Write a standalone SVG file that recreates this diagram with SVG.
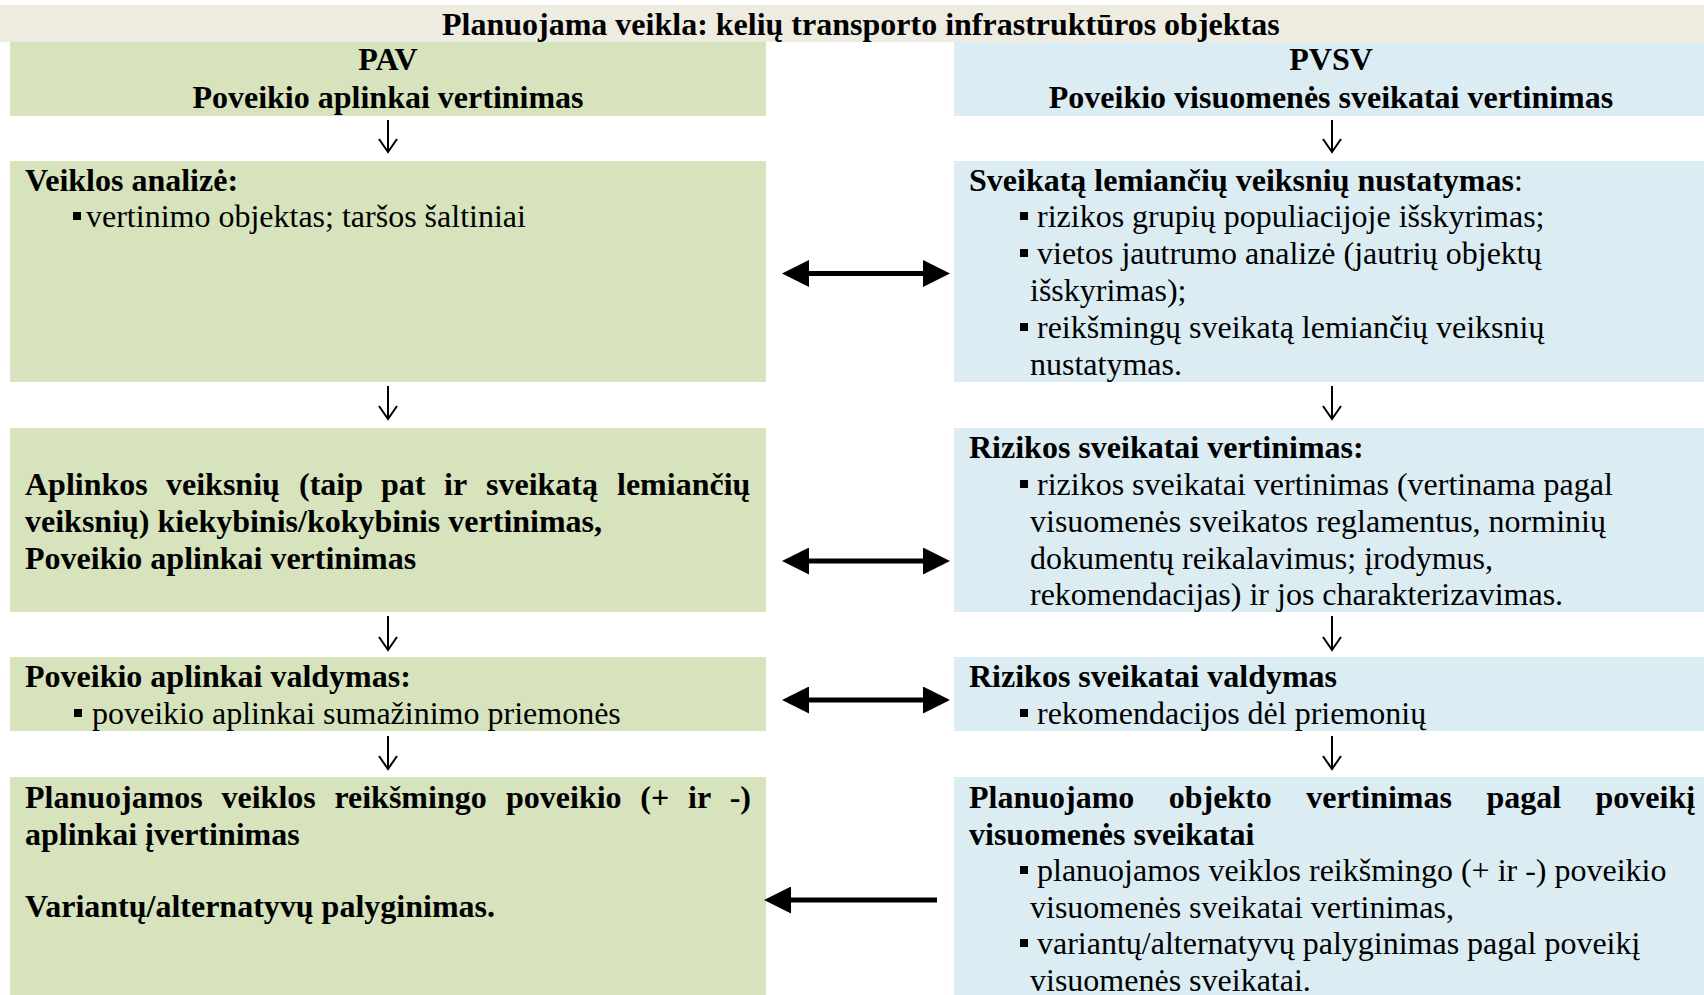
<svg xmlns="http://www.w3.org/2000/svg" width="1704" height="995" viewBox="0 0 1704 995">
<style>
.t{font-family:"Liberation Serif","Times New Roman",serif;font-size:32px;fill:#000}
.b{font-weight:bold}
.c{text-anchor:middle}
.beige{fill:#EEECE1}
.green{fill:#D7E3BD}
.blue{fill:#DBEDF3}
.bul{fill:#000}
.thin{stroke:#000;stroke-width:2;fill:none}
.thick{stroke:#000;stroke-width:5;fill:none}
</style>
<defs>
<marker id="head" markerUnits="userSpaceOnUse" markerWidth="27" markerHeight="27" refX="7" refY="13.5" orient="auto-start-reverse">
<path d="M0,0 L27,13.5 L0,27 z" fill="#000"/>
</marker>
</defs>
<rect width="1704" height="995" fill="#fff"/>

<g id="title">
<rect class="beige" x="0" y="5" width="1704" height="37"/>
<text class="t b" x="442" y="35">Planuojama veikla: kelių transporto infrastruktūros objektas</text>
</g>

<g id="pav-header">
<rect class="green" x="10" y="42" width="756" height="74"/>
<text class="t b c" x="388" y="70">PAV</text>
<text class="t b c" x="388" y="108">Poveikio aplinkai vertinimas</text>
</g>

<g id="pvsv-header">
<rect class="blue" x="954" y="42" width="750" height="74"/>
<text class="t b c" x="1331" y="70">PVSV</text>
<text class="t b c" x="1331" y="108">Poveikio visuomenės sveikatai vertinimas</text>
</g>

<g id="veiklos-analize">
<rect class="green" x="10" y="161" width="756" height="221"/>
<text class="t b" x="25" y="191">Veiklos analizė:</text>
<rect class="bul" x="73" y="212" width="8" height="8"/>
<text class="t" x="86" y="227">vertinimo objektas; taršos šaltiniai</text>
</g>

<g id="sveikata-lemianciu">
<rect class="blue" x="954" y="161" width="750" height="221"/>
<text class="t" x="969" y="191"><tspan class="b">Sveikatą lemiančių veiksnių nustatymas</tspan>:</text>
<rect class="bul" x="1020" y="212" width="8" height="8"/>
<text class="t" x="1037" y="227">rizikos grupių populiacijoje išskyrimas;</text>
<rect class="bul" x="1020" y="249" width="8" height="8"/>
<text class="t" x="1037" y="264">vietos jautrumo analizė (jautrių objektų</text>
<text class="t" x="1030" y="301">išskyrimas);</text>
<rect class="bul" x="1020" y="323" width="8" height="8"/>
<text class="t" x="1037" y="338">reikšmingų sveikatą lemiančių veiksnių</text>
<text class="t" x="1030" y="375">nustatymas.</text>
</g>

<g id="aplinkos-vertinimas">
<rect class="green" x="10" y="428" width="756" height="184"/>
<text class="t b" y="495"><tspan x="25">Aplinkos</tspan><tspan x="166">veiksnių</tspan><tspan x="299">(taip</tspan><tspan x="381">pat</tspan><tspan x="444">ir</tspan><tspan x="486">sveikatą</tspan><tspan x="617">lemiančių</tspan></text>
<text class="t b" x="25" y="532">veiksnių) kiekybinis/kokybinis vertinimas,</text>
<text class="t b" x="25" y="569">Poveikio aplinkai vertinimas</text>
</g>

<g id="rizikos-vertinimas">
<rect class="blue" x="954" y="428" width="750" height="184"/>
<text class="t b" x="969" y="458">Rizikos sveikatai vertinimas:</text>
<rect class="bul" x="1020" y="480" width="8" height="8"/>
<text class="t" x="1037" y="495">rizikos sveikatai vertinimas (vertinama pagal</text>
<text class="t" x="1030" y="532">visuomenės sveikatos reglamentus, norminių</text>
<text class="t" x="1030" y="569">dokumentų reikalavimus; įrodymus,</text>
<text class="t" x="1030" y="605">rekomendacijas) ir jos charakterizavimas.</text>
</g>

<g id="aplinkos-valdymas">
<rect class="green" x="10" y="657" width="756" height="74"/>
<text class="t b" x="25" y="687">Poveikio aplinkai valdymas:</text>
<rect class="bul" x="74" y="709" width="8" height="8"/>
<text class="t" x="92" y="724">poveikio aplinkai sumažinimo priemonės</text>
</g>

<g id="rizikos-valdymas">
<rect class="blue" x="954" y="657" width="750" height="74"/>
<text class="t b" x="969" y="687">Rizikos sveikatai valdymas</text>
<rect class="bul" x="1020" y="709" width="8" height="8"/>
<text class="t" x="1037" y="724">rekomendacijos dėl priemonių</text>
</g>

<g id="pav-ivertinimas">
<rect class="green" x="10" y="777" width="756" height="218"/>
<text class="t b" y="808"><tspan x="25">Planuojamos</tspan><tspan x="221.5">veiklos</tspan><tspan x="334.4">reikšmingo</tspan><tspan x="506">poveikio</tspan><tspan x="640.3">(+</tspan><tspan x="688">ir</tspan><tspan x="729.7">-)</tspan></text>
<text class="t b" x="25" y="845">aplinkai įvertinimas</text>
<text class="t b" x="25" y="917">Variantų/alternatyvų palyginimas.</text>
</g>

<g id="pvsv-ivertinimas">
<rect class="blue" x="954" y="777" width="750" height="218"/>
<text class="t b" y="808"><tspan x="969">Planuojamo</tspan><tspan x="1168.7">objekto</tspan><tspan x="1306.2">vertinimas</tspan><tspan x="1486.4">pagal</tspan><tspan x="1595.5">poveikį</tspan></text>
<text class="t b" x="969" y="845">visuomenės sveikatai</text>
<rect class="bul" x="1020" y="866" width="8" height="8"/>
<text class="t" x="1037" y="881">planuojamos veiklos reikšmingo (+ ir -) poveikio</text>
<text class="t" x="1030" y="918">visuomenės sveikatai vertinimas,</text>
<rect class="bul" x="1020" y="939" width="8" height="8"/>
<text class="t" x="1037" y="954">variantų/alternatyvų palyginimas pagal poveikį</text>
<text class="t" x="1030" y="991">visuomenės sveikatai.</text>
</g>

<g id="connectors">
<path class="thin" d="M388,120 V152 M379,139 L388,152 L397,139"/>
<path class="thin" d="M1332,120 V152 M1323,139 L1332,152 L1341,139"/>
<path class="thin" d="M388,386 V419 M379,406 L388,419 L397,406"/>
<path class="thin" d="M1332,386 V419 M1323,406 L1332,419 L1341,406"/>
<path class="thin" d="M388,616 V650 M379,637 L388,650 L397,637"/>
<path class="thin" d="M1332,616 V650 M1323,637 L1332,650 L1341,637"/>
<path class="thin" d="M388,736 V769 M379,756 L388,769 L397,756"/>
<path class="thin" d="M1332,736 V769 M1323,756 L1332,769 L1341,756"/>
<line class="thick" x1="802" y1="273.5" x2="930" y2="273.5" marker-start="url(#head)" marker-end="url(#head)"/>
<line class="thick" x1="802" y1="561" x2="930" y2="561" marker-start="url(#head)" marker-end="url(#head)"/>
<line class="thick" x1="802" y1="700" x2="930" y2="700" marker-start="url(#head)" marker-end="url(#head)"/>
<line class="thick" x1="937" y1="900" x2="784" y2="900" marker-end="url(#head)"/>
</g>
</svg>
